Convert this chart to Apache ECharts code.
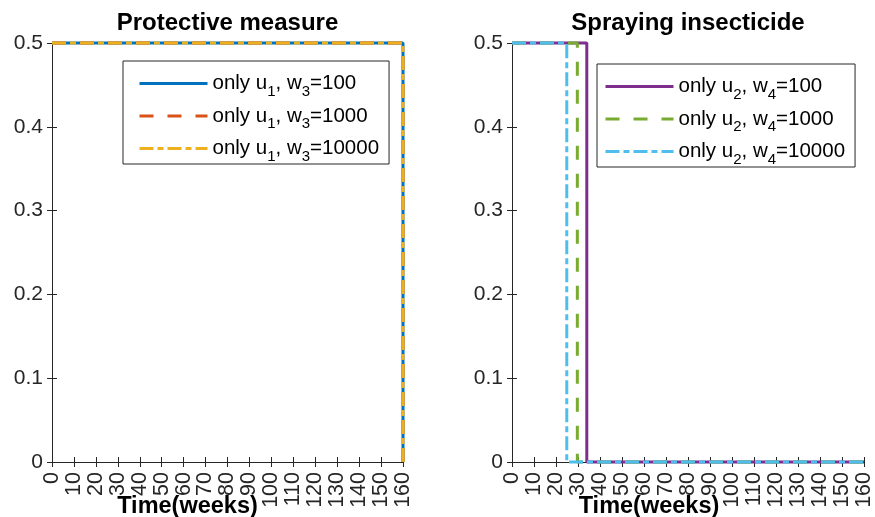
<!DOCTYPE html>
<html>
<head>
<meta charset="utf-8">
<script src="https://cdn.jsdelivr.net/npm/echarts@6/dist/echarts.min.js"></script>
<style>html,body{margin:0;padding:0;background:#fff;}#c{width:875px;height:517px;}</style>
</head>
<body>
<div id="c"></div>
<script>
// ---- data ----
const panelTitles = ['Protective measure', 'Spraying insecticide'];
const xAxisTitle = 'Time(weeks)';
const xMin = 0, xMax = 160, xStep = 10;
const yMin = 0, yMax = 0.5, yStep = 0.1;

// left panel: only u1 (protective measure), switches off at t = 160
const leftNames = ['only u1, w3=100', 'only u1, w3=1000', 'only u1, w3=10000'];
const leftX_w100 = [0, 160, 160];
const leftY_w100 = [0.5, 0.5, 0];
const leftX_w1000 = [0, 160, 160];
const leftY_w1000 = [0.5, 0.5, 0];
const leftX_w10000 = [0, 160, 160];
const leftY_w10000 = [0.5, 0.5, 0];

// right panel: only u2 (spraying insecticide)
const rightNames = ['only u2, w4=100', 'only u2, w4=1000', 'only u2, w4=10000'];
const rightX_w100 = [0, 34, 34, 160];
const rightY_w100 = [0.5, 0.5, 0, 0];
const rightX_w1000 = [0, 29.7, 29.7, 160];
const rightY_w1000 = [0.5, 0.5, 0, 0];
const rightX_w10000 = [0, 24.9, 24.9, 160];
const rightY_w10000 = [0.5, 0.5, 0, 0];

const leftColors = ['#0072BD', '#D95319', '#EDB120'];
const rightColors = ['#7E2F8E', '#77AC30', '#4DBEEE'];

// ---- chart ----
const FONT = '"Liberation Sans", Arial, Helvetica, sans-serif';
const AX = '#262626';
const pairs = (xs, ys) => xs.map((x, i) => [x, ys[i]]);

const dashTypes = ['solid', [14, 14], [14, 4, 6, 4]];

const grids = [
  { left: 52, top: 43, width: 351, height: 419 },
  { left: 512, top: 43, width: 352, height: 419 }
];

function xAx(gi, pos, labels) {
  return {
    type: 'value', gridIndex: gi, position: pos, min: xMin, max: xMax, interval: xStep,
    axisLine: { show: true, lineStyle: { color: AX, width: 1 } },
    axisTick: { show: true, inside: true, length: 5, lineStyle: { color: AX } },
    axisLabel: labels ? { show: true, rotate: 90, margin: 10, interval: 0, fontSize: 21.5, color: AX, fontFamily: FONT } : { show: false },
    splitLine: { show: false }
  };
}
function yAx(gi, pos, labels) {
  return {
    type: 'value', gridIndex: gi, position: pos, min: yMin, max: yMax, interval: yStep,
    axisLine: { show: true, lineStyle: { color: AX, width: 1 } },
    axisTick: { show: true, inside: true, length: 5, lineStyle: { color: AX } },
    axisLabel: labels ? { show: true, margin: 9, fontSize: 21, color: AX, fontFamily: FONT } : { show: false },
    splitLine: { show: false }
  };
}

function mkSeries(name, data, color, k, axIdx) {
  return {
    type: 'line', name, data, xAxisIndex: axIdx, yAxisIndex: axIdx,
    showSymbol: false, symbol: 'none', clip: false, animation: false,
    lineStyle: { color, width: 3, type: dashTypes[k] },
    itemStyle: { color },
    emphasis: { disabled: true }
  };
}

const series = [
  mkSeries(leftNames[0], pairs(leftX_w100, leftY_w100), leftColors[0], 0, 0),
  mkSeries(leftNames[1], pairs(leftX_w1000, leftY_w1000), leftColors[1], 1, 0),
  mkSeries(leftNames[2], pairs(leftX_w10000, leftY_w10000), leftColors[2], 2, 0),
  mkSeries(rightNames[0], pairs(rightX_w100, rightY_w100), rightColors[0], 0, 2),
  mkSeries(rightNames[1], pairs(rightX_w1000, rightY_w1000), rightColors[1], 1, 2),
  mkSeries(rightNames[2], pairs(rightX_w10000, rightY_w10000), rightColors[2], 2, 2)
];

function legendFmt(name) {
  const m = name.match(/^only u(\d), w(\d)=(\d+)$/);
  return '{n|only u}{s|' + m[1] + '}{n|, w}{s|' + m[2] + '}{n|=' + m[3] + '}';
}
function mkLegend(names, left, top, padLeft) {
  return {
    data: names, orient: 'vertical', left, top, selectedMode: false,
    itemWidth: 68, itemHeight: 20, itemGap: 1.5,
    padding: [7, 10, 0, padLeft],
    backgroundColor: '#fff', borderColor: AX, borderWidth: 1, borderRadius: 0,
    lineStyle: { width: 3 },
    itemStyle: { color: 'rgba(0,0,0,0)', borderWidth: 0, opacity: 0 },
    formatter: legendFmt,
    textStyle: {
      fontFamily: FONT, color: '#000', fontSize: 20.5,
      rich: {
        n: { fontSize: 20.5, lineHeight: 20, color: '#000', fontFamily: FONT },
        s: { fontSize: 15, lineHeight: 20, padding: [16, 0, 0, 0], color: '#000', fontFamily: FONT }
      }
    }
  };
}

function txt(text, x, y, size) {
  return {
    type: 'text', x, y, silent: true,
    style: {
      text, fill: '#000', font: 'bold ' + size + 'px ' + FONT,
      align: 'center', verticalAlign: 'middle', textAlign: 'center', textVerticalAlign: 'middle'
    }
  };
}

const option = {
  animation: false,
  backgroundColor: '#fff',
  grid: grids,
  xAxis: [xAx(0, 'bottom', true), xAx(0, 'top', false), xAx(1, 'bottom', true), xAx(1, 'top', false)],
  yAxis: [yAx(0, 'left', true), yAx(0, 'right', false), yAx(1, 'left', true), yAx(1, 'right', false)],
  legend: [mkLegend(leftNames, 123, 61, 15), mkLegend(rightNames, 597, 64, 7)],
  series,
  graphic: [
    txt(panelTitles[0], 227.5, 23.7, 24),
    txt(panelTitles[1], 688, 23.7, 24),
    txt(xAxisTitle, 187.5, 506.9, 23.5),
    txt(xAxisTitle, 649, 506.9, 23.5)
  ]
};

const chart = echarts.init(document.getElementById('c'), null, { renderer: 'canvas' });
chart.setOption(option);
</script>
</body>
</html>
